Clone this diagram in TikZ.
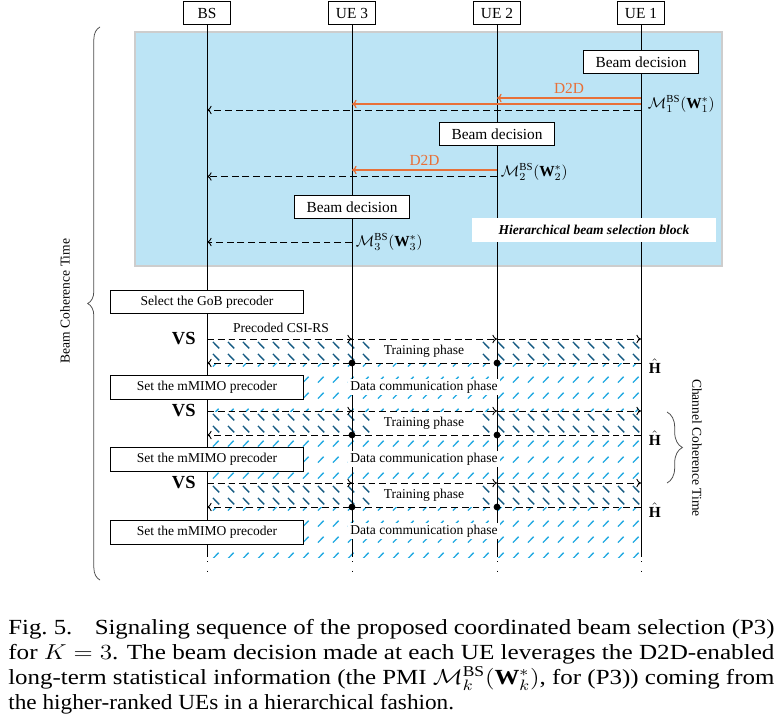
\RequirePackage{fix-cm}
\documentclass[tikz,border=0pt]{standalone}
\usepackage{amsmath}
\usepackage{graphicx}
\usepackage{fontspec}
\setmainfont{Liberation Serif}
\usetikzlibrary{positioning,calc,arrows.meta,decorations.pathreplacing,patterns.meta}

\definecolor{blockblue}{RGB}{188,228,245}
\definecolor{blockedge}{RGB}{205,205,205}
\definecolor{dtwod}{RGB}{232,112,56}
\definecolor{trainhatch}{RGB}{20,90,130}
\definecolor{datahatch}{RGB}{35,170,225}

\tikzdeclarepattern{
  name=trainlines,
  type=uncolored,
  bounding box={(0pt,0pt) and (9.75pt,7.8pt)},
  tile size={(9.75pt,7.8pt)},
  code={\draw[line width=0.9pt] (2pt,6.2pt) -- (6.4pt,1.8pt);}
}
\tikzdeclarepattern{
  name=datalines,
  type=uncolored,
  bounding box={(0pt,0pt) and (9.75pt,10.4pt)},
  tile size={(9.75pt,10.4pt)},
  code={\draw[line width=0.9pt] (2pt,3pt) -- (6pt,7pt);}
}

\newcommand{\smallfont}{\fontsize{8.8}{10.5}\selectfont}
\newcommand{\capline}[1]{\resizebox{498pt}{\height}{#1}}

\begin{document}
\begin{tikzpicture}[x=0.65pt, y=-0.65pt,
      font=\fontsize{10}{12}\selectfont,
      >={To[length=3pt,width=5.5pt]},
      hdr/.style = {draw, fill=white, line width=0.6pt, minimum width=31pt,
         minimum height=15pt, inner sep=1pt},
      decide/.style = {draw, fill=white, line width=0.6pt, minimum width=75pt,
         minimum height=15.5pt, inner sep=1pt},
      precbox/.style = {draw, fill=white, line width=0.6pt, minimum width=125.5pt,
         minimum height=15.5pt, inner sep=1pt, font=\smallfont},
      life/.style = {line width=0.6pt},
      lifedots/.style = {line width=0.6pt, dash pattern=on 0.8pt off 5.5pt},
      d2d/.style = {dtwod, line width=0.8pt, ->},
      report/.style = {line width=0.6pt, dash pattern=on 4.5pt off 2.5pt, ->},
      feedback/.style = {line width=0.6pt, dash pattern=on 4.5pt off 2.5pt, ->},
      train/.style = {pattern=trainlines, pattern color=trainhatch},
      data/.style = {pattern=datalines, pattern color=datahatch},
      phase/.style = {fill=white, font=\smallfont, inner sep=1.5pt},
      brc/.style = {black!70, line width=0.5pt, decorate},
      capfont/.style = {anchor=base west, inner sep=0pt, font=\fontsize{14}{17}\selectfont}
]
   \useasboundingbox (0,0) rectangle (780,723);

   % hierarchical beam selection block
   \filldraw[fill=blockblue, draw=blockedge, line width=0.8pt] (135,32) rectangle (722,266);

   % entities
   \node[hdr] (bs)  at (207,13) {BS};
   \node[hdr] (ue3) at (352,13) {UE 3};
   \node[hdr] (ue2) at (497,13) {UE 2};
   \node[hdr] (ue1) at (641,13) {UE 1};

   % training (\) and data (/) hatching
   \fill[train] (bs |- 0,339) rectangle (ue1 |- 0,363);
   \fill[data]  (bs |- 0,363) rectangle (ue1 |- 0,411);
   \fill[train] (bs |- 0,411) rectangle (ue1 |- 0,435);
   \fill[data]  (bs |- 0,435) rectangle (ue1 |- 0,483);
   \fill[train] (bs |- 0,483) rectangle (ue1 |- 0,507);
   \fill[data]  (bs |- 0,507) rectangle (ue1 |- 0,557);

   % lifelines
   \coordinate (lifeend) at (0,557);
   \coordinate (dotstart) at (0,561);
   \coordinate (dotend) at (0,577);
   \draw[life] (bs.south)  -- (bs |- lifeend);
   \draw[life] (ue3.south) -- (ue3 |- lifeend);
   \draw[life] (ue2.south) -- (ue2 |- lifeend);
   \draw[life] (ue1.south) -- (ue1 |- lifeend);
   \draw[lifedots] (bs |- dotstart)  -- (bs |- dotend);
   \draw[lifedots] (ue3 |- dotstart) -- (ue3 |- dotend);
   \draw[lifedots] (ue2 |- dotstart) -- (ue2 |- dotend);
   \draw[lifedots] (ue1 |- dotstart) -- (ue1 |- dotend);

   % UE 1 decides
   \node[decide] (bd1) at (ue1 |- 0,62) {Beam decision};
   \draw[d2d] (ue1 |- 0,98) -- node[above=-1pt, text=dtwod] (d2da) {D2D} (ue2 |- 0,98);
   \draw[d2d] (ue1 |- 0,104) -- (ue3 |- 0,104);
   \draw[report] (ue1 |- 0,110) -- (bs |- 0,110);
   \node[anchor=west, inner sep=1pt] (pmi1) at ($(ue1 |- 0,104)+(5,0)$)
      {$\mathcal{M}_{1}^{\mathrm{BS}}(\mathbf{W}_{1}^{*})$};

   % UE 2 decides
   \node[decide] (bd2) at (ue2 |- 0,134) {Beam decision};
   \draw[d2d] (ue2 |- 0,170) -- node[above=-1pt, text=dtwod] (d2db) {D2D} (ue3 |- 0,170);
   \draw[report] (ue2 |- 0,176.5) -- (bs |- 0,176.5);
   \node[anchor=west, inner sep=1pt] (pmi2) at ($(ue2 |- 0,172)+(2,0)$)
      {$\mathcal{M}_{2}^{\mathrm{BS}}(\mathbf{W}_{2}^{*})$};

   % UE 3 decides
   \node[decide] (bd3) at (ue3 |- 0,207) {Beam decision};
   \draw[report] (ue3 |- 0,242) -- (bs |- 0,242);
   \node[anchor=west, inner sep=1pt] (pmi3) at ($(ue3 |- 0,242)+(2,0)$)
      {$\mathcal{M}_{3}^{\mathrm{BS}}(\mathbf{W}_{3}^{*})$};

   \node[fill=white, minimum width=158pt, minimum height=15.6pt, inner sep=1pt,
      font=\smallfont\bfseries\itshape] (hbsb) at (594,230)
      {Hierarchical beam selection block};

   % precoder boxes at the BS
   \node[precbox] (gob)    at (bs |- 0,302) {Select the GoB precoder};
   \node[precbox] (mmimo1) at (bs |- 0,387.5) {Set the mMIMO precoder};
   \node[precbox] (mmimo2) at (bs |- 0,459.5) {Set the mMIMO precoder};
   \node[precbox] (mmimo3) at (bs |- 0,532.5) {Set the mMIMO precoder};

   % first training phase
   \node[font=\smallfont] (csirs) at (281,328) {Precoded CSI-RS};
   \draw[report] (bs |- 0,339) -- (ue3 |- 0,339);
   \draw[report] (bs |- 0,339) -- (ue2 |- 0,339);
   \draw[report] (bs |- 0,339) -- (ue1 |- 0,339);
   \draw[feedback] (ue1 |- 0,363) -- (bs |- 0,363);
   \fill (ue3 |- 0,363) circle (2.2pt);
   \fill (ue2 |- 0,363) circle (2.2pt);

   % second training phase
   \draw[report] (bs |- 0,411) -- (ue3 |- 0,411);
   \draw[report] (bs |- 0,411) -- (ue2 |- 0,411);
   \draw[report] (bs |- 0,411) -- (ue1 |- 0,411);
   \draw[feedback] (ue1 |- 0,435) -- (bs |- 0,435);
   \fill (ue3 |- 0,435) circle (2.2pt);
   \fill (ue2 |- 0,435) circle (2.2pt);

   % third training phase
   \draw[report] (bs |- 0,483) -- (ue3 |- 0,483);
   \draw[report] (bs |- 0,483) -- (ue2 |- 0,483);
   \draw[report] (bs |- 0,483) -- (ue1 |- 0,483);
   \draw[feedback] (ue1 |- 0,507) -- (bs |- 0,507);
   \fill (ue3 |- 0,507) circle (2.2pt);
   \fill (ue2 |- 0,507) circle (2.2pt);

   % phase labels
   \node[phase, minimum width=69pt, minimum height=13pt] (tp1) at (424,351) {Training phase};
   \node[phase, minimum width=69pt, minimum height=13pt] (tp2) at (424,423) {Training phase};
   \node[phase, minimum width=69pt, minimum height=13pt] (tp3) at (424,495) {Training phase};
   \node[phase] (dp1) at (424,387) {Data communication phase};
   \node[phase] (dp2) at (424,459) {Data communication phase};
   \node[phase] (dp3) at (424,531) {Data communication phase};

   % virtual sectorization and channel estimates
   \node[anchor=east, font=\fontsize{12}{14}\selectfont\bfseries] (vs1) at ($(bs |- 0,339)+(-6,0)$) {VS};
   \node[anchor=east, font=\fontsize{12}{14}\selectfont\bfseries] (vs2) at ($(bs |- 0,411)+(-6,0)$) {VS};
   \node[anchor=east, font=\fontsize{12}{14}\selectfont\bfseries] (vs3) at ($(bs |- 0,483)+(-6,0)$) {VS};
   \node[anchor=west, inner sep=1pt] (h1) at ($(ue1 |- 0,366)+(6,0)$) {$\hat{\mathbf{H}}$};
   \node[anchor=west, inner sep=1pt] (h2) at ($(ue1 |- 0,438)+(6,0)$) {$\hat{\mathbf{H}}$};
   \node[anchor=west, inner sep=1pt] (h3) at ($(ue1 |- 0,510)+(6,0)$) {$\hat{\mathbf{H}}$};

   % coherence times
   \draw[brc, decoration={brace, amplitude=8pt}] (100,580) -- (100,27);
   \node[rotate=90, font=\smallfont] (bct) at (65,301) {Beam Coherence Time};
   \draw[brc, decoration={brace, amplitude=10pt}] (667,412) -- (667,483);
   \node[rotate=-90, font=\smallfont] (cct) at (697,448) {Channel Coherence Time};

   % caption
   \node[capfont] (cap1) at (8,634)
      {\capline{Fig.~5.\hspace{0.9em}Signaling sequence of the proposed coordinated beam selection (P3)}};
   \node[capfont] (cap2) at (8,659.5)
      {\capline{for $K=3$. The beam decision made at each UE leverages the D2D-enabled}};
   \node[capfont] (cap3) at (8,684.5)
      {\capline{long-term statistical information (the PMI $\mathcal{M}_{k}^{\mathrm{BS}}(\mathbf{W}_{k}^{*})$, for (P3)) coming from}};
   \node[capfont] (cap4) at (8,709.5)
      {\scalebox{1.08}[1]{the higher-ranked UEs in a hierarchical fashion.}};
\end{tikzpicture}
\end{document}
